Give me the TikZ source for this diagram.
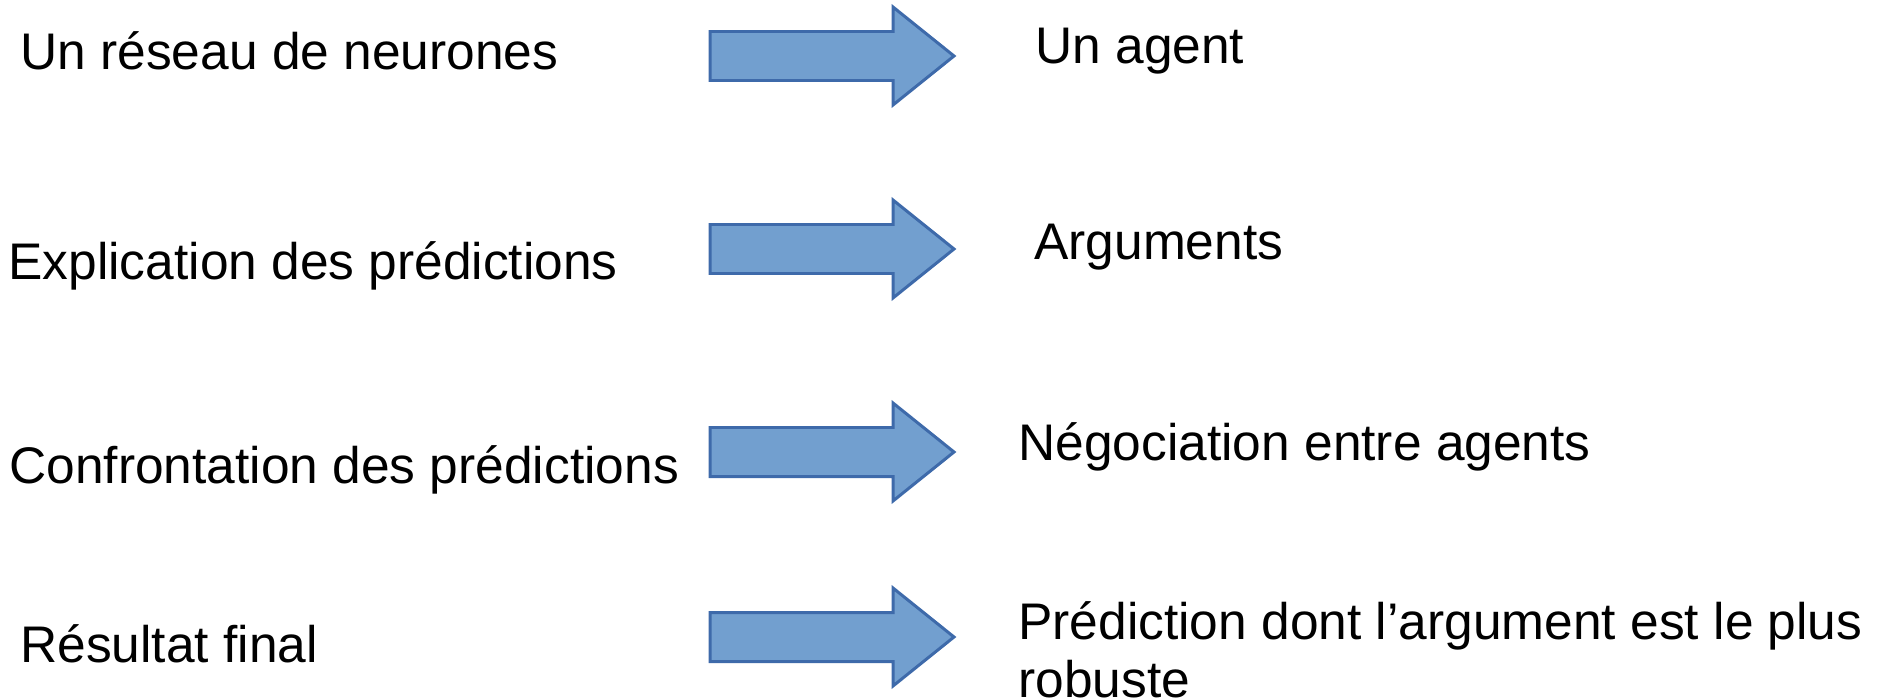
\documentclass[tikz,border=0pt]{standalone}
\usepackage{fontspec}
\setmainfont{Liberation Sans}
\usepackage{tikz}
\usetikzlibrary{positioning}

\definecolor{arrowfill}{RGB}{114,159,207}
\definecolor{arrowline}{RGB}{62,106,170}

\begin{document}
\begin{tikzpicture}[
    x=0.02cm, y=-0.02cm,
    every node/.style={anchor=base west, inner sep=0pt, align=left, font=\fontsize{29.3}{32.5}\selectfont},
    bigarrow/.style={draw=arrowline, fill=arrowfill, line width=1.7pt, line join=miter}
]
\useasboundingbox (0,0) rectangle (1877,700);

% left column
\node (reseau) at (20,69) {Un réseau de neurones};
\node (explic) at (8,279) {Explication des prédictions};
\node (confront) at (9,483) {Confrontation des prédictions};
\node (resultat) at (20,662) {Résultat final};

% right column
\node (agent) at (1035,63) {Un agent};
\node (args) at (1034,259) {Arguments};
\node (nego) at (1018,460) {Négociation entre agents};
\node (predic) at (1018,697) {Prédiction dont l’argument est le plus\\robuste};

% block arrows
\foreach \y in {56,249,452,637}
    \draw[bigarrow] (710,\y-24.5) -- (893,\y-24.5) -- (893,\y-49) -- (954,\y)
        -- (893,\y+49) -- (893,\y+24.5) -- (710,\y+24.5) -- cycle;
\end{tikzpicture}
\end{document}
